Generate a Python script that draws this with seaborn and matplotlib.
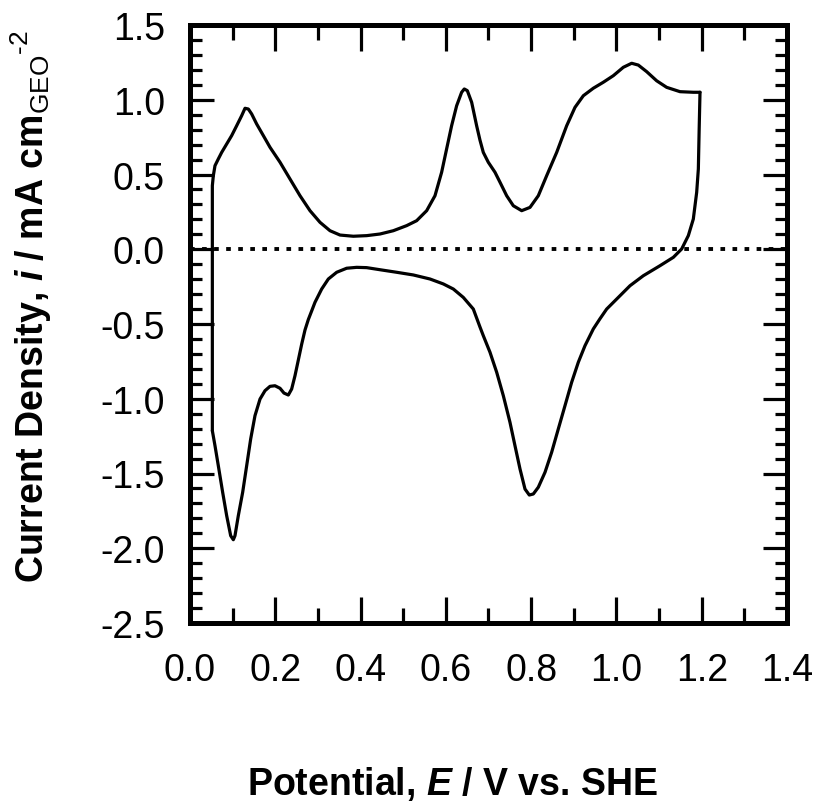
import matplotlib
matplotlib.use("Agg")
import matplotlib.pyplot as plt
import seaborn as sns
import numpy as np
import pandas as pd
from matplotlib.ticker import MultipleLocator

# Anodic sweep (0.05 V -> 1.2 V)
E_anodic = [0.0524, 0.0524, 0.0524, 0.0547, 0.0586, 0.0664, 0.0743, 0.0860, 0.0977, 0.1094,
            0.1211, 0.1290, 0.1368, 0.1446, 0.1563, 0.1720, 0.1876, 0.2111, 0.2345, 0.2580,
            0.2814, 0.3049, 0.3283, 0.3518, 0.3830, 0.4143, 0.4456, 0.4768, 0.5081, 0.5315,
            0.5550, 0.5745, 0.5901, 0.6018, 0.6135, 0.6253, 0.6370, 0.6432, 0.6503, 0.6605,
            0.6722, 0.6800, 0.6878, 0.6995, 0.7152, 0.7270, 0.7426, 0.7582, 0.7778, 0.7973,
            0.8168, 0.8364, 0.8599, 0.8833, 0.9028, 0.9224, 0.9458, 0.9692, 0.9927, 1.0161,
            1.0357, 1.0513, 1.0709, 1.0943, 1.1178, 1.1491, 1.1803, 1.1960]
i_anodic = [-1.214, 0.380, 0.425, 0.492, 0.559, 0.604, 0.648, 0.704, 0.760, 0.826,
            0.893, 0.943, 0.938, 0.905, 0.838, 0.760, 0.682, 0.582, 0.470, 0.358,
            0.258, 0.180, 0.124, 0.095, 0.087, 0.091, 0.102, 0.124, 0.158, 0.191,
            0.258, 0.358, 0.515, 0.671, 0.826, 0.960, 1.050, 1.072, 1.061, 0.983,
            0.826, 0.730, 0.648, 0.582, 0.515, 0.448, 0.358, 0.291, 0.258, 0.280,
            0.358, 0.492, 0.648, 0.826, 0.949, 1.027, 1.077, 1.117, 1.161, 1.217,
            1.244, 1.232, 1.188, 1.127, 1.083, 1.054, 1.050, 1.050]

# Cathodic sweep (1.2 V -> 0.05 V)
E_cathodic = [1.1960, 1.1940, 1.1921, 1.1882, 1.1803, 1.1686, 1.1530, 1.1335, 1.1022, 1.0631,
              1.0318, 1.0006, 0.9771, 0.9614, 0.9458, 0.9263, 0.9106, 0.8950, 0.8794, 0.8637,
              0.8481, 0.8325, 0.8168, 0.8051, 0.7957, 0.7856, 0.7739, 0.7621, 0.7504, 0.7348,
              0.7192, 0.7035, 0.6878, 0.6800, 0.6644, 0.6409, 0.6175, 0.5940, 0.5628, 0.5237,
              0.4846, 0.4456, 0.4143, 0.3909, 0.3674, 0.3440, 0.3244, 0.3088, 0.2931, 0.2850,
              0.2775, 0.2697, 0.2619, 0.2541, 0.2462, 0.2384, 0.2306, 0.2204, 0.2111, 0.1993,
              0.1876, 0.1759, 0.1642, 0.1524, 0.1423, 0.1329, 0.1235, 0.1133, 0.1055, 0.1016,
              0.0954, 0.0860, 0.0766, 0.0664, 0.0586, 0.0524]
i_cathodic = [1.050, 0.800, 0.537, 0.381, 0.202, 0.091, 0.002, -0.054, -0.110, -0.177,
              -0.244, -0.333, -0.400, -0.465, -0.533, -0.645, -0.756, -0.890, -1.046, -1.202,
              -1.358, -1.492, -1.592, -1.637, -1.644, -1.604, -1.470, -1.314, -1.158, -0.980,
              -0.823, -0.689, -0.578, -0.520, -0.400, -0.322, -0.266, -0.232, -0.199, -0.172,
              -0.154, -0.137, -0.123, -0.121, -0.127, -0.154, -0.199, -0.266, -0.355, -0.415,
              -0.470, -0.540, -0.635, -0.740, -0.846, -0.935, -0.975, -0.962, -0.930, -0.913,
              -0.917, -0.946, -1.002, -1.113, -1.269, -1.448, -1.626, -1.782, -1.916, -1.943,
              -1.916, -1.782, -1.626, -1.448, -1.314, -1.214]

x_ticks = [0.0, 0.2, 0.4, 0.6, 0.8, 1.0, 1.2, 1.4]
y_ticks = [1.5, 1.0, 0.5, 0.0, -0.5, -1.0, -1.5, -2.0, -2.5]

sns.set_theme(style="ticks")
plt.rcParams['font.family'] = ['Liberation Sans', 'DejaVu Sans']
plt.rcParams['mathtext.fontset'] = 'custom'
plt.rcParams['mathtext.rm'] = 'Liberation Sans:bold'
plt.rcParams['mathtext.it'] = 'Liberation Sans:bold:italic'
plt.rcParams['mathtext.bf'] = 'Liberation Sans:bold'
plt.rcParams['mathtext.sf'] = 'Liberation Sans'
plt.rcParams['text.color'] = 'black'
plt.rcParams['axes.labelcolor'] = 'black'
plt.rcParams['xtick.color'] = 'black'
plt.rcParams['ytick.color'] = 'black'
plt.rcParams['axes.unicode_minus'] = False

fig = plt.figure(figsize=(8.19, 8.03), dpi=100)
ax = fig.add_axes([190/819, 1 - 624/803, 597/819, 598/803])

sns.lineplot(x=E_anodic, y=i_anodic, sort=False, estimator=None, color='black',
             linewidth=2.3, ax=ax, solid_joinstyle='round', solid_capstyle='round')
sns.lineplot(x=E_cathodic, y=i_cathodic, sort=False, estimator=None, color='black',
             linewidth=2.3, ax=ax, solid_joinstyle='round', solid_capstyle='round')
ax.axhline(0, color='black', linewidth=2.8, linestyle=(0, (1.2, 1.9)), dash_capstyle='butt')

ax.set_xlim(0.0, 1.4)
ax.set_ylim(-2.5, 1.5)
ax.set_xticks(x_ticks)
ax.set_xticklabels([f"{v:.1f}" for v in x_ticks])
ax.set_yticks(y_ticks)
ax.set_yticklabels([f"{v:.1f}" for v in y_ticks])
ax.xaxis.set_minor_locator(MultipleLocator(0.1))
ax.yaxis.set_minor_locator(MultipleLocator(0.1))

for s in ax.spines.values():
    s.set_linewidth(3.6)
    s.set_color('black')

ax.tick_params(axis='x', which='major', direction='in', length=19, width=2.3,
               top=True, bottom=True, labelsize=27, pad=21, colors='black')
ax.tick_params(axis='x', which='minor', direction='in', length=11, width=2.3,
               top=True, bottom=True, colors='black')
ax.tick_params(axis='y', which='major', direction='in', length=17, width=2.3,
               left=True, right=True, labelsize=27, pad=18, colors='black')
ax.tick_params(axis='y', which='minor', direction='in', length=8.5, width=2.3,
               left=True, right=True, colors='black')

ax.set_xlabel(r"Potential, $\mathit{E}$ / V vs. SHE", fontsize=27, fontweight='bold',
              va='center', color='black')
ax.xaxis.set_label_coords((453 - 190) / 597, (624 - 784) / 598)
ax.set_ylabel("Current Density, $\\mathit{i}$ / mA cm$_{\\mathsf{GEO}}$$^{\\mathsf{\u2010 2}}$",
              fontsize=27, fontweight='bold', va='center', color='black')
ax.yaxis.set_label_coords((31 - 190) / 597, (624 - 306) / 598)

fig.savefig("out.png", dpi=100, facecolor='white')
